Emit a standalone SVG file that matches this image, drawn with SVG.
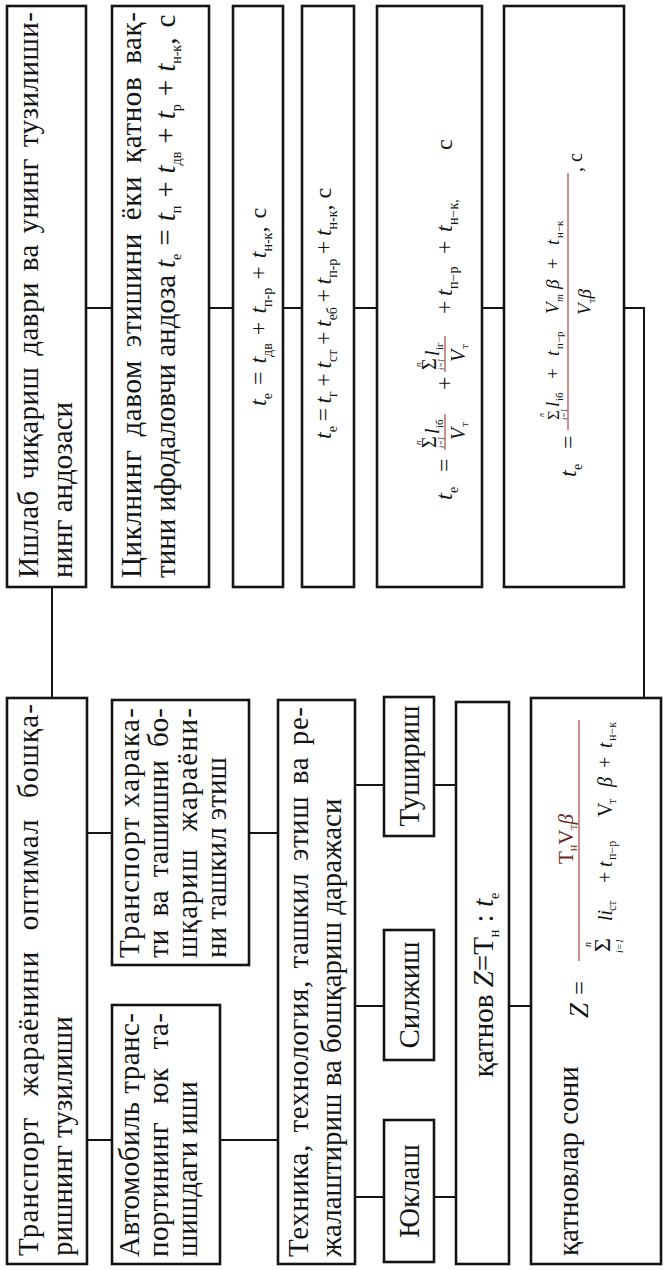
<svg xmlns="http://www.w3.org/2000/svg" width="664" height="1270" viewBox="0 0 664 1270">
<style>
.bx{fill:#fff;stroke:#141414;stroke-width:2.6}
.ln{stroke:#141414;stroke-width:2;fill:none}
.fr{stroke:#b5534c;stroke-width:1.3}
.t{font-family:"Liberation Serif","Times New Roman",serif;font-size:29px;fill:#141414}
.f{font-family:"Liberation Serif","Times New Roman",serif;font-size:24px;fill:#141414}
.i{font-style:italic}
.s{font-size:14px}
.rd{fill:#6b2a22}
</style>
<rect width="664" height="1270" fill="#fff"/>
<g id="connectors">
<path class="ln" d="M86 308H112M209 308H233M283 308H302M354 308H377M482 308H504M624 308H644V698"/>
<path class="ln" d="M52 587V698"/>
<path class="ln" d="M87 833H112M249 833H278M87 1140H112M220 1140H278"/>
<path class="ln" d="M355 785H384M434 785H456M355 1006H384M355 1197H384M434 1197H456M509 1006H531"/>
</g>
<g id="n-ishlab">
<rect class="bx" x="7" y="6" width="79" height="581"/>
<text class="t" transform="translate(38,578) rotate(-90)" word-spacing="3" textLength="566" lengthAdjust="spacing">Ишлаб чиқариш даври ва унинг тузилиши-</text>
<text class="t" transform="translate(72,578) rotate(-90)">нинг андозаси</text>
</g>
<g id="n-sikl">
<rect class="bx" x="112" y="6" width="97" height="581"/>
<text class="t" transform="translate(141,578) rotate(-90)" word-spacing="5" textLength="566" lengthAdjust="spacing">Циклнинг давом этишини ёки қатнов вақ-</text>
<text class="t" transform="translate(175,578) rotate(-90)">тини ифодаловчи андоза</text>
<text class="t" font-size="26" transform="translate(175,268) rotate(-90)"><tspan class="i">t</tspan><tspan class="s" dy="6">е</tspan><tspan dy="-6" dx="8">=</tspan><tspan class="i" dx="8">t</tspan><tspan class="s" dy="6">п</tspan><tspan dy="-6" dx="8">+</tspan><tspan class="i" dx="8">t</tspan><tspan class="s" dy="6">дв</tspan><tspan dy="-6" dx="8">+</tspan><tspan class="i" dx="8">t</tspan><tspan class="s" dy="6">р</tspan><tspan dy="-6" dx="8">+</tspan><tspan class="i" dx="8">t</tspan><tspan class="s" dy="6">н-к</tspan><tspan dy="-6">,</tspan><tspan dx="10">с</tspan></text>
</g>
<g id="n-f1">
<rect class="bx" x="233" y="6" width="50" height="581"/>
<text class="f" transform="translate(266,406) rotate(-90)"><tspan class="i">t</tspan><tspan class="s" dy="6">е</tspan><tspan dy="-6" dx="8">=</tspan><tspan class="i" dx="8">t</tspan><tspan class="s" dy="6">дв</tspan><tspan dy="-6" dx="8">+</tspan><tspan class="i" dx="8">t</tspan><tspan class="s" dy="6">п-р</tspan><tspan dy="-6" dx="8">+</tspan><tspan class="i" dx="8">t</tspan><tspan class="s" dy="6">н-к</tspan><tspan dy="-6">,</tspan><tspan dx="8">с</tspan></text>
</g>
<g id="n-f2">
<rect class="bx" x="302" y="6" width="52" height="581"/>
<text class="f" transform="translate(331,439) rotate(-90)"><tspan class="i">t</tspan><tspan class="s" dy="6">е</tspan><tspan dy="-6" dx="4.5">=</tspan><tspan class="i" dx="4.5">t</tspan><tspan class="s" dy="6">г</tspan><tspan dy="-6" dx="4.5">+</tspan><tspan class="i" dx="4.5">t</tspan><tspan class="s" dy="6">ст</tspan><tspan dy="-6" dx="4.5">+</tspan><tspan class="i" dx="4.5">t</tspan><tspan class="s" dy="6">еб</tspan><tspan dy="-6" dx="4.5">+</tspan><tspan class="i" dx="4.5">t</tspan><tspan class="s" dy="6">п-р</tspan><tspan dy="-6" dx="4.5">+</tspan><tspan class="i" dx="4.5">t</tspan><tspan class="s" dy="6">н-к</tspan><tspan dy="-6">,</tspan><tspan dx="6">с</tspan></text>
</g>
<g id="n-f3">
<rect class="bx" x="377" y="6" width="105" height="581"/>
<g class="f" transform="translate(452,500) rotate(-90)">
<text x="0" y="0" class="i">t</text><text x="7" y="6" class="s">е</text>
<text x="28" y="0">=</text>
<line class="fr" x1="50" y1="-7" x2="86" y2="-7"/>
<text x="52" y="-16" font-size="20">Σ</text><text x="55" y="-31" font-size="9" class="i">n</text><text x="52" y="-8.5" font-size="8" class="i">i=1</text>
<text x="66" y="-13" class="i" font-size="20">l</text><text x="72" y="-9" font-size="11">iб</text>
<text x="60" y="13" class="i" font-size="20">V</text><text x="73" y="16" font-size="11">т</text>
<text x="110" y="0">+</text>
<line class="fr" x1="128" y1="-7" x2="164" y2="-7"/>
<text x="130" y="-16" font-size="20">Σ</text><text x="133" y="-31" font-size="9" class="i">n</text><text x="130" y="-8.5" font-size="8" class="i">i=1</text>
<text x="144" y="-13" class="i" font-size="20">l</text><text x="150" y="-9" font-size="11">iг</text>
<text x="138" y="13" class="i" font-size="20">V</text><text x="151" y="16" font-size="11">т</text>
<text x="186" y="0">+</text>
<text x="204" y="0" class="i">t</text><text x="211" y="6" class="s">п−р</text>
<text x="246" y="0">+</text>
<text x="268" y="0" class="i">t</text><text x="275" y="6" class="s">н−к,</text>
<text x="350" y="0">с</text>
</g>
</g>
<g id="n-f4">
<rect class="bx" x="504" y="6" width="120" height="581"/>
<g class="f" transform="translate(576,477) rotate(-90)">
<text x="0" y="0" class="i">t</text><text x="7" y="6" class="s">е</text>
<text x="28" y="0">=</text>
<line class="fr" x1="47" y1="-8" x2="304" y2="-8"/>
<text x="57" y="-17" font-size="17">Σ</text><text x="60" y="-32" font-size="8" class="i">n</text><text x="57" y="-9.5" font-size="8" class="i">i=1</text>
<text x="70" y="-17" class="i" font-size="19">l</text><text x="76" y="-13" font-size="11">iб</text>
<text x="98" y="-17" font-size="19">+</text>
<text x="121" y="-17" class="i" font-size="19">t</text><text x="128" y="-13" font-size="11">п−р</text>
<text x="163" y="-17" class="i" font-size="19">V</text><text x="175" y="-13" font-size="11" class="i">т</text>
<text x="188" y="-17" class="i" font-size="19">β</text>
<text x="208" y="-17" font-size="19">+</text>
<text x="232" y="-17" class="i" font-size="19">t</text><text x="239" y="-13" font-size="11">н−к</text>
<text x="175" y="15" font-size="19" text-anchor="middle"><tspan class="i">V</tspan><tspan font-size="11" dy="4">т</tspan><tspan class="i" dy="-4">β</tspan></text>
<text x="305" y="6" font-size="20">, с</text>
</g>
</g>
<g id="n-transport">
<rect class="bx" x="7" y="698" width="80" height="566"/>
<text class="t" transform="translate(38,1256) rotate(-90)" word-spacing="12" textLength="552" lengthAdjust="spacing">Транспорт жараёнини оптимал бошқа-</text>
<text class="t" transform="translate(72,1256) rotate(-90)">ришнинг тузилиши</text>
</g>
<g id="n-harakat">
<rect class="bx" x="112" y="700" width="137" height="265"/>
<text class="t" font-size="28" transform="translate(139,958) rotate(-90)" textLength="250" lengthAdjust="spacing">Транспорт харака-</text>
<text class="t" font-size="28" transform="translate(168,958) rotate(-90)" word-spacing="6" textLength="250" lengthAdjust="spacing">ти ва ташишни бо-</text>
<text class="t" font-size="28" transform="translate(197,958) rotate(-90)" word-spacing="8" textLength="250" lengthAdjust="spacing">шқариш жараёни-</text>
<text class="t" font-size="28" transform="translate(226,958) rotate(-90)">ни ташкил этиш</text>
</g>
<g id="n-avto">
<rect class="bx" x="112" y="1005" width="108" height="259"/>
<text class="t" font-size="28" transform="translate(139,1257) rotate(-90)" textLength="244" lengthAdjust="spacing">Автомобиль транс-</text>
<text class="t" font-size="28" transform="translate(168,1257) rotate(-90)" word-spacing="10" textLength="244" lengthAdjust="spacing">портининг юк та-</text>
<text class="t" font-size="28" transform="translate(197,1257) rotate(-90)">шишдаги иши</text>
</g>
<g id="n-texnika">
<rect class="bx" x="278" y="700" width="77" height="564"/>
<text class="t" transform="translate(308,1257) rotate(-90)" word-spacing="4" textLength="550" lengthAdjust="spacing">Техника, технология, ташкил этиш ва ре-</text>
<text class="t" transform="translate(341,1257) rotate(-90)">жалаштириш ва бошқариш даражаси</text>
</g>
<g id="n-tushirish">
<rect class="bx" x="384" y="697" width="50" height="139"/>
<text class="t" text-anchor="middle" transform="translate(419,766) rotate(-90)">Тушириш</text>
</g>
<g id="n-siljish">
<rect class="bx" x="384" y="930" width="50" height="130"/>
<text class="t" text-anchor="middle" transform="translate(419,995) rotate(-90)">Силжиш</text>
</g>
<g id="n-yuklash">
<rect class="bx" x="384" y="1120" width="50" height="142"/>
<text class="t" text-anchor="middle" transform="translate(419,1191) rotate(-90)">Юклаш</text>
</g>
<g id="n-qatnov">
<rect class="bx" x="456" y="702" width="53" height="562"/>
<text class="t" text-anchor="middle" transform="translate(493,985) rotate(-90)">қатнов <tspan class="i">Z</tspan>=T<tspan class="s" dy="6">н</tspan><tspan dy="-6"> : </tspan><tspan class="i">t</tspan><tspan class="s" dy="6">е</tspan></text>
</g>
<g id="n-qatnovlar">
<rect class="bx" x="531" y="698" width="130" height="566"/>
<text class="t" transform="translate(578,1256) rotate(-90)">қатновлар сони</text>
<g class="f" transform="translate(588,1020) rotate(-90)">
<text x="2" y="0" class="i" font-size="27">Z</text>
<text x="25" y="0" font-size="25">=</text>
<line class="fr" x1="59" y1="-9" x2="300" y2="-9"/>
<text x="181" y="-15" font-size="21" text-anchor="middle" class="rd">T<tspan font-size="12" dy="4">н</tspan><tspan dy="-4">V</tspan><tspan font-size="12" dy="4">т</tspan><tspan class="i" dy="-4">β</tspan></text>
<text x="68" y="22" font-size="24">Σ</text><text x="73" y="3" font-size="10" class="i">n</text><text x="67" y="35" font-size="10" class="i">i=1</text>
<text x="99" y="24" class="i" font-size="20">li</text><text x="109" y="28" font-size="12">ст</text>
<text x="137" y="24" font-size="20">+</text>
<text x="153" y="24" class="i" font-size="20">t</text><text x="160" y="28" font-size="12">п−р</text>
<text x="203" y="24" font-size="20">V</text><text x="216" y="28" font-size="12">т</text>
<text x="233" y="24" class="i" font-size="20">β</text>
<text x="252" y="24" font-size="20">+</text>
<text x="272" y="24" class="i" font-size="20">t</text><text x="279" y="28" font-size="12">н−к</text>
</g>
</g>
</svg>
